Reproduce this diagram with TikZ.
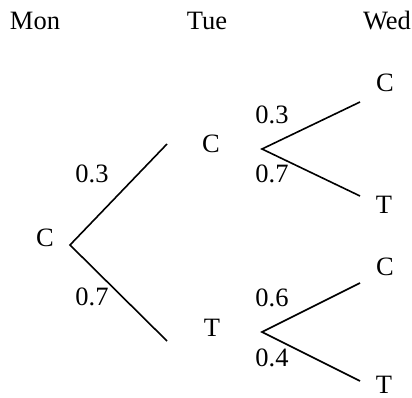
\documentclass[tikz,border=0pt]{standalone}
\usepackage{fontspec}
\setmainfont{Liberation Serif}
\begin{document}
\begin{tikzpicture}[x=1pt,y=-1pt,
  lbl/.style={inner sep=0pt, font=\fontsize{26.5}{30}\selectfont},
  branch/.style={line width=1.6pt}]
\useasboundingbox (0,0) rectangle (412,398);
% headings
\node[lbl] (mon) at (35,21) {Mon};
\node[lbl] (tue) at (207,21) {Tue};
\node[lbl] (wed) at (387,21) {Wed};
% states
\node[lbl] (root) at (45,238) {C};
\node[lbl] (tc) at (211,144) {C};
\node[lbl] (tt) at (212,328) {T};
\node[lbl] (wcc) at (385,83) {C};
\node[lbl] (wct) at (384,205) {T};
\node[lbl] (wtc) at (385,267) {C};
\node[lbl] (wtt) at (384,385) {T};
% probabilities
\node[lbl] (p1) at (92,174) {0.3};
\node[lbl] (p2) at (92,297) {0.7};
\node[lbl] (p3) at (272,115) {0.3};
\node[lbl] (p4) at (272,174) {0.7};
\node[lbl] (p5) at (272,298) {0.6};
\node[lbl] (p6) at (272,358) {0.4};
% branch points
\coordinate (r) at (70,245);
\coordinate (a1) at (167,144);
\coordinate (a2) at (167,341);
\coordinate (b) at (262,149);
\coordinate (b1) at (360,102);
\coordinate (b2) at (360,196);
\coordinate (c) at (262,332);
\coordinate (c1) at (360,283);
\coordinate (c2) at (360,381);
\draw[branch] (a1) -- (r) -- (a2);
\draw[branch] (b1) -- (b) -- (b2);
\draw[branch] (c1) -- (c) -- (c2);
\end{tikzpicture}
\end{document}
